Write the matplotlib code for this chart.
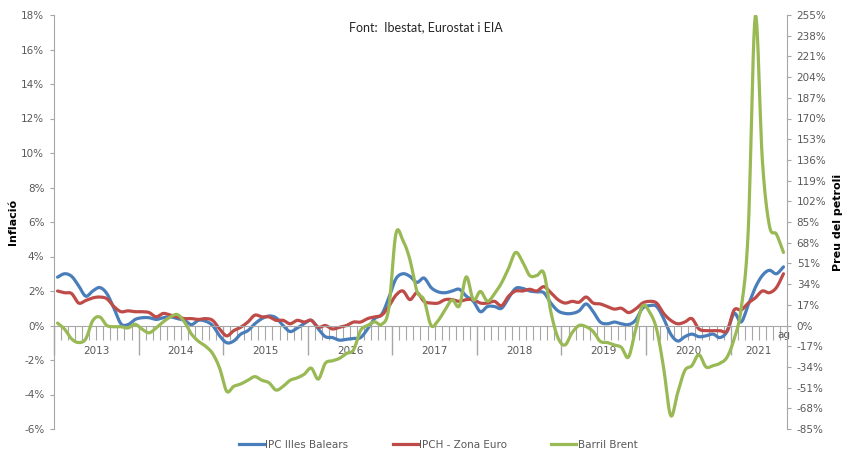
import numpy as np
import matplotlib
matplotlib.use("Agg")
import matplotlib.pyplot as plt
from matplotlib.lines import Line2D

# monthly series, gener 2013 - agost 2021
years = ["2013", "2014", "2015", "2016", "2017", "2018", "2019", "2020", "2021"]

ipc_balears = [
    2.8, 3.0, 2.85, 2.3, 1.7, 2.0, 2.2, 1.85, 1.0, 0.1, 0.05, 0.35,
    0.45, 0.45, 0.35, 0.45, 0.5, 0.4, 0.3, 0.05, 0.3, 0.25, 0.0, -0.6,
    -1.0, -0.9, -0.5, -0.3, 0.1, 0.4, 0.55, 0.45, 0.0, -0.35, -0.15, 0.1,
    0.3, -0.2, -0.65, -0.7, -0.85, -0.8, -0.75, -0.7, -0.2, 0.4, 0.65, 1.6,
    2.7, 3.0, 2.85, 2.5, 2.75, 2.2, 1.95, 1.9, 2.0, 2.1, 1.7, 1.4,
    0.8, 1.1, 1.1, 1.0, 1.6, 2.15, 2.15, 2.0, 1.95, 1.9, 1.3, 0.85,
    0.7, 0.7, 0.85, 1.25, 0.8, 0.2, 0.1, 0.2, 0.1, 0.05, 0.3, 1.0,
    1.15, 1.1, 0.4, -0.5, -0.9, -0.65, -0.5, -0.65, -0.6, -0.5, -0.7, -0.35,
    0.7, 0.2, 1.2, 2.2, 2.9, 3.2, 3.0, 3.4,
]

ipch_euro = [
    2.0, 1.9, 1.85, 1.3, 1.45, 1.6, 1.65, 1.55, 1.1, 0.8, 0.85, 0.8,
    0.8, 0.75, 0.5, 0.7, 0.6, 0.5, 0.4, 0.4, 0.35, 0.4, 0.3, -0.2,
    -0.6, -0.3, -0.1, 0.2, 0.6, 0.5, 0.5, 0.3, 0.3, 0.1, 0.3, 0.2,
    0.3, -0.1, 0.0, -0.2, -0.1, 0.0, 0.2, 0.2, 0.4, 0.5, 0.6, 1.1,
    1.75, 2.0, 1.5, 1.9, 1.4, 1.3, 1.3, 1.5, 1.5, 1.4, 1.5, 1.5,
    1.3, 1.3, 1.4, 1.15, 1.7, 2.0, 2.0, 2.1, 2.0, 2.25, 1.9, 1.5,
    1.3, 1.4, 1.35, 1.65, 1.3, 1.25, 1.1, 0.95, 1.0, 0.75, 0.95, 1.3,
    1.4, 1.3, 0.7, 0.3, 0.1, 0.2, 0.4, -0.2, -0.3, -0.3, -0.3, -0.3,
    0.9, 0.9, 1.3, 1.6, 2.0, 1.9, 2.2, 3.0,
]

brent = [
    2, -3, -11, -14, -11, 4, 7, 0, -1, -1, -2, 1,
    -3, -6, -2, 3, 7, 9, 3, -7, -13, -17, -23, -35,
    -54, -50, -48, -45, -42, -45, -47, -53, -50, -45, -43, -40,
    -35, -44, -31, -29, -27, -23, -20, -4, 0, 3, 1, 14,
    75, 70, 54, 28, 21, 0, 4, 13, 21, 16, 40, 21,
    28, 20, 26, 35, 47, 60, 52, 41, 41, 43, 11, -10,
    -16, -6, 0, -1, -5, -13, -14, -16, -18, -26, -4, 16,
    11, -3, -35, -74, -55, -37, -33, -24, -34, -33, -31, -26,
    -11, 14, 78, 254, 136, 82, 75, 60,
]


def smooth(x, y, n=10):
    # catmull-rom, semblant al "suavitzat" d'Excel
    x = np.asarray(x, float)
    y = np.asarray(y, float)
    px = np.concatenate([[2 * x[0] - x[1]], x, [2 * x[-1] - x[-2]]])
    py = np.concatenate([[2 * y[0] - y[1]], y, [2 * y[-1] - y[-2]]])
    t = np.linspace(0, 1, n, endpoint=False)
    xs, ys = [], []
    for i in range(1, len(px) - 2):
        for p, out in ((px, xs), (py, ys)):
            p0, p1, p2, p3 = p[i - 1], p[i], p[i + 1], p[i + 2]
            out.extend(0.5 * (2 * p1 + (-p0 + p2) * t
                              + (2 * p0 - 5 * p1 + 4 * p2 - p3) * t ** 2
                              + (-p0 + 3 * p1 - 3 * p2 + p3) * t ** 3))
    xs.append(x[-1])
    ys.append(y[-1])
    return np.array(xs), np.array(ys)


blue = "#4A7EBB"
red = "#BE4B48"
green = "#98B954"
grey = "#595959"
axis_grey = "#A6A6A6"

plt.rcParams['font.family'] = ['DejaVu Sans']

fig = plt.figure(figsize=(8.45, 4.51), dpi=100)
ax = fig.add_axes([54 / 845, 1 - 429 / 451, (787 - 54) / 845, (429 - 15) / 451])
ax2 = ax.twinx()

months = np.arange(len(ipc_balears)) + 0.5

xs, ys = smooth(months, ipc_balears)
ax.plot(xs, ys, color=blue, lw=2.3, solid_capstyle='round')
xs, ys = smooth(months, ipch_euro)
ax.plot(xs, ys, color=red, lw=2.3, solid_capstyle='round')
xs, ys = smooth(months, brent)
ax2.plot(xs, ys, color=green, lw=2.3, solid_capstyle='round')

ax.set_xlim(0, 104)
ax.set_ylim(-6, 18)
ax2.set_ylim(-85, 255)

ax.set_yticks(np.arange(-6, 19, 2))
ax.set_yticklabels([f"{v}%" for v in range(-6, 19, 2)])
ax2.set_yticks(np.arange(-85, 256, 17))
ax2.set_yticklabels([f"{v}%" for v in range(-85, 256, 17)])

for a in (ax, ax2):
    a.spines['top'].set_visible(False)
    a.spines['left'].set_color(axis_grey)
    a.spines['right'].set_color(axis_grey)
    a.spines['bottom'].set_color(axis_grey)
ax2.spines['bottom'].set_visible(False)
ax2.spines['left'].set_visible(False)
ax.spines['right'].set_visible(False)
ax.spines['bottom'].set_position(('data', 0))

ax.tick_params(axis='y', colors=axis_grey, labelcolor=grey, labelsize=7.5, length=3, pad=4)
ax2.tick_params(axis='y', colors=axis_grey, labelcolor=grey, labelsize=7.5, length=3, pad=4)

ax.set_xticks(np.arange(0, 105, 12))
ax.set_xticks(np.arange(0, 105, 1), minor=True)
ax.tick_params(axis='x', which='major', length=21, width=1, colors=axis_grey, labelbottom=False)
ax.tick_params(axis='x', which='minor', length=10, width=0.8, colors=axis_grey)

for k, yr in enumerate(years):
    ax.text(12 * k + 6 if k < 8 else 12 * k + 4, -1.45, yr, ha='center', va='center',
            fontsize=7.5, color=grey)
ax.text(103.5, -0.55, "ag", ha='center', va='center', fontsize=7.5, color=grey)

fig.text(13 / 845, 1 - 222 / 451, "Inflació", rotation=90, ha='center', va='center',
         fontsize=8, fontweight='bold', family=['Liberation Sans Narrow', 'DejaVu Sans'])
fig.text(838 / 845, 1 - 222 / 451, "Preu del petroli", rotation=90, ha='center', va='center',
         fontsize=8, fontweight='bold', family=['Liberation Sans Narrow', 'DejaVu Sans'])

fig.text(426 / 845, 1 - 27 / 451, "Font:  Ibestat, Eurostat i EIA", ha='center', va='center',
         fontsize=9, color="#262626", family=['Lato', 'DejaVu Sans'])

handles = [Line2D([], [], color=blue, lw=2.3),
           Line2D([], [], color=red, lw=2.3),
           Line2D([], [], color=green, lw=2.3)]
fig.legend(handles, ["IPC Illes Balears", "IPCH - Zona Euro", "Barril Brent"],
           loc='center', bbox_to_anchor=(438 / 845, 1 - 445 / 451), ncol=3, frameon=False,
           fontsize=7.5, handlelength=2.4, handletextpad=0.1, columnspacing=4.3,
           labelcolor=grey)

fig.savefig("out.png", dpi=100)
